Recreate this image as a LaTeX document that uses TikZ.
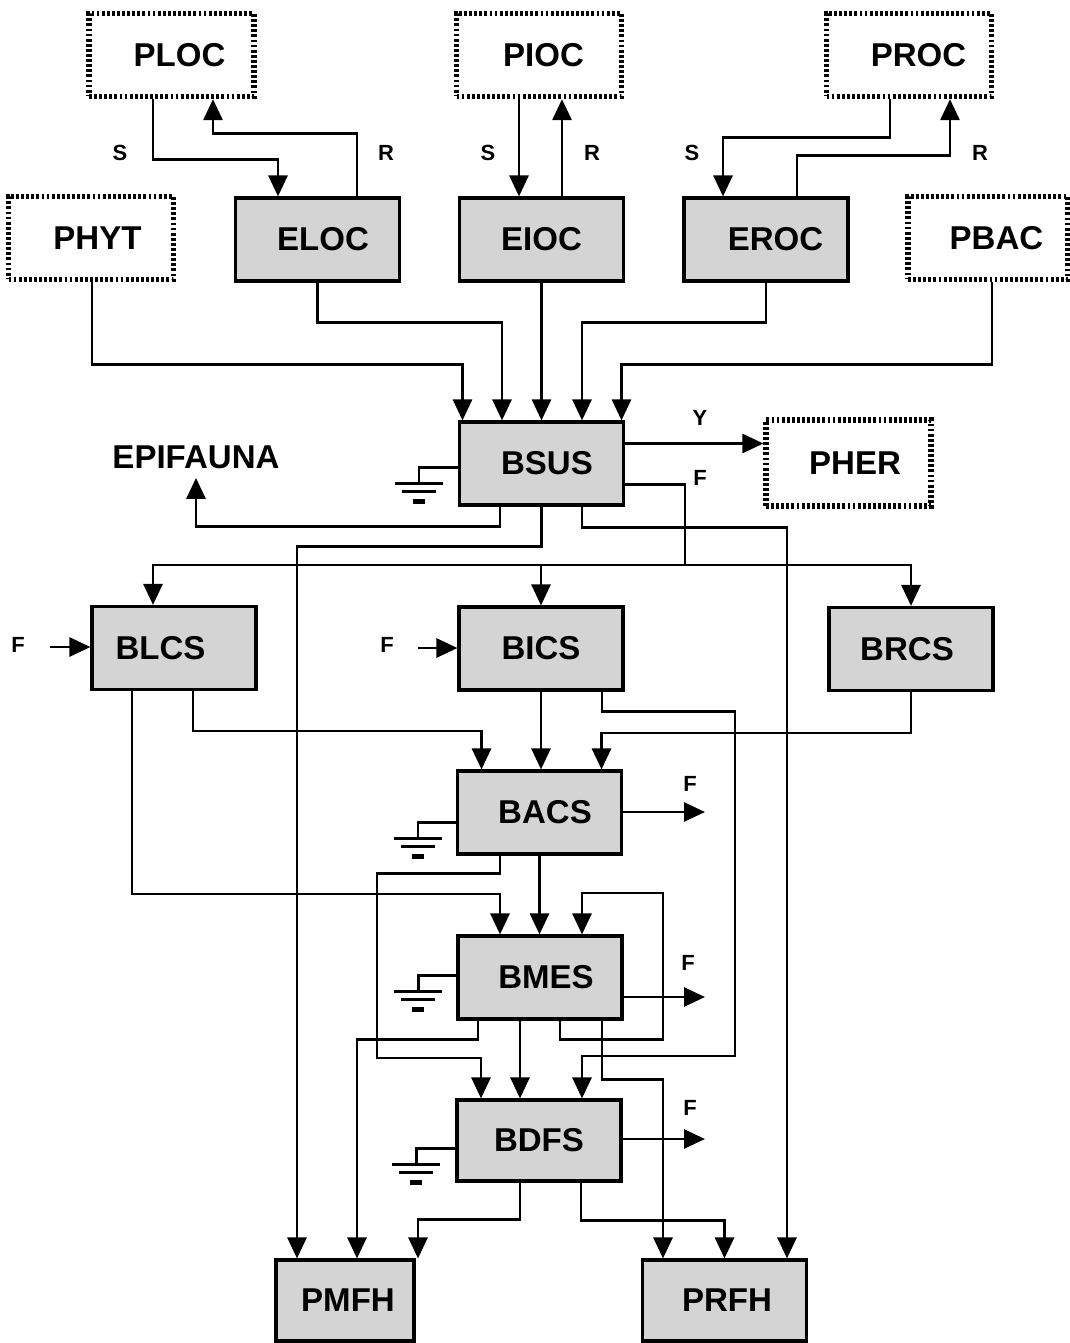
\documentclass[tikz,border=0pt]{standalone}
\usepackage{fontspec}
\setmainfont{Liberation Sans}
\usetikzlibrary{arrows.meta,calc}

\begin{document}
\begin{tikzpicture}[
    x=0.02cm, y=-0.02cm,
    font=\fontsize{18.8}{22}\selectfont\bfseries,
    sbox/.style={draw, line width=1.8pt, fill=black!17, minimum width=3.28cm, minimum height=1.66cm, inner sep=0pt},
    pbox/.style={draw, line width=3pt, dash pattern=on 1.6pt off 1.3pt, minimum width=3.3cm, minimum height=1.66cm, inner sep=0pt},
    lbl/.style={font=\fontsize{12.5}{14}\selectfont\bfseries, inner sep=0pt},
    arr/.style={-{Triangle[length=0.42cm,width=0.38cm]}, line width=1.6pt},
    wire/.style={line width=1.4pt},
    gnd/.pic={\draw[line width=1.2pt] (-24,0) -- (24,0) (-17,8) -- (17,8);
              \draw[line width=2.4pt] (-6,18) -- (6,18);}
  ]
  \useasboundingbox (0,0) rectangle (1070,1343);

  \node[pbox] (ploc) at (171.5,55) {\hspace{0.32cm}PLOC};
  \node[pbox] (pioc) at (539,55) {\hspace{0.18cm}PIOC};
  \node[pbox] (proc) at (909,55) {\hspace{0.38cm}PROC};
  \node[pbox] (phyt) at (91,238) {\hspace{0.26cm}PHYT};
  \node[sbox] (eloc) at (317.5,239.5) {\hspace{0.22cm}ELOC};
  \node[sbox] (eioc) at (541.5,239.5) {EIOC};
  \node[sbox] (eroc) at (766,239.5) {\hspace{0.38cm}EROC};
  \node[pbox, minimum width=3.2cm] (pbac) at (988,238) {\hspace{0.34cm}PBAC};
  \node[sbox] (bsus) at (541.5,463.5) {\hspace{0.22cm}BSUS};
  \node[pbox, minimum height=1.72cm] (pher) at (848.5,463) {\hspace{0.26cm}PHER};
  \node[inner sep=0pt] (epi) at (196,457) {EPIFAUNA};
  \node[sbox] (blcs) at (174,648) {BLCS\kern0.54cm};
  \node[sbox] (bics) at (541,648.5) {BICS};
  \node[sbox] (brcs) at (911,649) {BRCS\kern0.16cm};
  \node[sbox] (bacs) at (539.5,812.5) {\hspace{0.22cm}BACS};
  \node[sbox] (bmes) at (540,977.5) {\hspace{0.24cm}BMES};
  \node[sbox, minimum height=1.62cm] (bdfs) at (539,1140.5) {BDFS};
  \node[sbox, minimum width=2.76cm, minimum height=1.62cm] (pmfh) at (345,1300.5) {\hspace{0.12cm}PMFH};
  \node[sbox, minimum height=1.62cm] (prfh) at (724.5,1300.5) {\hspace{0.1cm}PRFH};

  \node[lbl] (s1) at (120,153) {S};
  \node[lbl] (r1) at (386,153) {R};
  \node[lbl] (s2) at (488,153) {S};
  \node[lbl] (r2) at (592,153) {R};
  \node[lbl] (s3) at (692,153) {S};
  \node[lbl] (r3) at (980,153) {R};
  \node[lbl] (ylbl) at (700,418) {Y};
  \node[lbl] (fsus) at (700,478) {F};
  \node[lbl] (fin1lbl) at (18,645) {F};
  \node[lbl] (fin2lbl) at (387,645) {F};
  \node[lbl] (facs) at (690,784) {F};
  \node[lbl] (fmes) at (688,963) {F};
  \node[lbl] (fdfs) at (690,1108) {F};

  \coordinate (split) at (685,565);
  \coordinate (fin1) at (50,647);
  \coordinate (fin2) at (418,648);
  \coordinate (rbend) at (735,1056);
  \coordinate (lbend) at (377,1058);
  \coordinate (mbend) at (663,893);
  \coordinate (fo1) at (705,812);
  \coordinate (fo2) at (705,997);
  \coordinate (fo3) at (705,1139);

  \draw[arr] ($(ploc.south)+(-18.5,0)$) -- ++(0,60) -| ($(eloc.north)+(-39.5,0)$);
  \draw[arr] ($(eloc.north)+(39.5,0)$) -- ++(0,-63) -| ($(ploc.south)+(41.5,0)$);
  \draw[arr] ($(pioc.south)+(-20,0)$) coordinate (sp) -- (sp |- eioc.north);
  \draw[arr] ($(eioc.north)+(20.5,0)$) coordinate (rp) -- (rp |- pioc.south);
  \draw[arr] ($(proc.south)+(-19,0)$) -- ++(0,38) -| ($(eroc.north)+(-43,0)$);
  \draw[arr] ($(eroc.north)+(31,0)$) -- ++(0,-41) -| ($(proc.south)+(41,0)$);

  \draw[arr] ($(phyt.south)+(1,0)$) -- ++(0,82) -| ($(bsus.north)+(-79,0)$);
  \draw[arr] (eloc.south) -- ++(0,40) -| ($(bsus.north)+(-39.5,0)$);
  \draw[arr] (eioc.south) -- (bsus.north);
  \draw[arr] (eroc.south) -- ++(0,40) -| ($(bsus.north)+(40.5,0)$);
  \draw[arr] ($(pbac.south)+(4,0)$) -- ++(0,82) -| ($(bsus.north)+(80,0)$);

  \draw[arr] ($(bsus.east)+(0,-20)$) coordinate (yout) -- (yout -| pher.west);
  \draw[wire] ($(bsus.east)+(0,21)$) -| (split);
  \draw[arr] (split) -| ($(blcs.north)+(-21,0)$);
  \draw[arr] (split) -| (brcs.north);
  \draw[arr] (bics.north |- split) -- (bics.north);
  \draw[arr] ($(bsus.south)+(40.5,0)$) -- ++(0,21) -| ($(prfh.north)+(62.5,0)$);
  \draw[arr] (bsus.south) -- ++(0,40) -| ($(pmfh.north)+(-48,0)$);
  \draw[arr] ($(bsus.south)+(-41.5,0)$) -- ++(0,20) -| ($(epi.south)+(0,9)$);
  \draw[wire] ($(bsus.west)+(0,4)$) -| ++(-39,16) pic {gnd};

  \draw[arr] (fin1) -- (fin1 -| blcs.west);
  \draw[arr] (fin2) -- (fin2 -| bics.west);
  \draw[arr] ($(blcs.south)+(19,0)$) -- ++(0,40) -| ($(bacs.north)+(-58,0)$);
  \draw[arr] ($(blcs.south)+(-42,0)$) -- ++(0,203) -| ($(bmes.north)+(-40,0)$);
  \draw[arr] (bics.south) -- (bics.south |- bacs.north);
  \draw[arr] ($(bics.south)+(61,0)$) -- ++(0,20) -| (rbend) -| ($(bdfs.north)+(43,0)$);
  \draw[arr] (brcs.south) -- ++(0,41) -| ($(bacs.north)+(62,0)$);

  \draw[arr] (bacs.east |- fo1) -- (fo1);
  \draw[arr] (bacs.south) -- (bacs.south |- bmes.north);
  \draw[arr] ($(bacs.south)+(-39.5,0)$) -- ++(0,18) -| (lbend) -| ($(bdfs.north)+(-58,0)$);
  \draw[wire] ($(bacs.west)+(0,10)$) -| ++(-38,16) pic {gnd};

  \draw[arr] ($(bmes.south)+(20,0)$) -- ++(0,19) -| (mbend) -| ($(bmes.north)+(42,0)$);
  \draw[arr] (bmes.east |- fo2) -- (fo2);
  \draw[arr] ($(bmes.south)+(-62,0)$) -- ++(0,19) -| ($(pmfh.north)+(12,0)$);
  \draw[arr] ($(bmes.south)+(-20,0)$) coordinate (mdown) -- (mdown |- bdfs.north);
  \draw[arr] ($(bmes.south)+(62,0)$) -- ++(0,59) -| ($(prfh.north)+(-61.5,0)$);
  \draw[wire] ($(bmes.west)+(0,-2)$) -| ++(-38,16) pic {gnd};

  \draw[arr] (bdfs.east |- fo3) -- (fo3);
  \draw[arr] ($(bdfs.south)+(-19,0)$) -- ++(0,37) -| ($(pmfh.north)+(73,0)$);
  \draw[arr] ($(bdfs.south)+(42,0)$) -- ++(0,38) -| (prfh.north);
  \draw[wire] ($(bdfs.west)+(0,8)$) -| ++(-39,16) pic {gnd};
\end{tikzpicture}
\end{document}
